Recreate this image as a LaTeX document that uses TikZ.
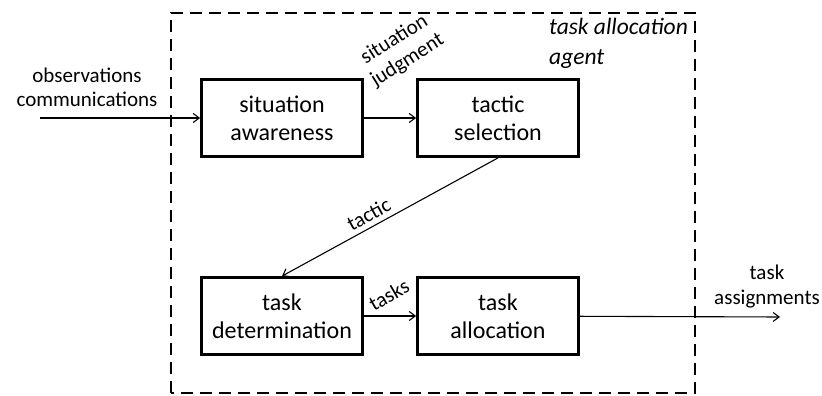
\documentclass[tikz,border=0pt]{standalone}
\usepackage{fontspec}
\setmainfont{Carlito}
\usetikzlibrary{arrows.meta}
\tikzset{
  blk/.style={draw, line width=2.8pt, minimum width=161pt, minimum height=77pt,
    align=center, inner sep=0pt, font=\fontsize{24}{28}\selectfont},
  lbl/.style={align=center, inner sep=0pt, font=\fontsize{21}{24.5}\selectfont},
  agt/.style={anchor=base west, inner sep=0pt, font=\fontsize{23.5}{28}\selectfont\itshape},
  conn/.style={line width=1.1pt, -{Straight Barb[length=6pt,width=9pt]}},
  connr/.style={line width=1.1pt, {Straight Barb[length=6pt,width=9pt]}-},
  frame/.style={line width=2.8pt, dash pattern=on 12pt off 7pt},
}
\begin{document}
\begin{tikzpicture}[x=1pt,y=1pt]
\useasboundingbox (0,0) rectangle (822,396);
\draw[frame] (171,3) rectangle (695,383);

\node[blk] (sa) at (282,278) {situation\\awareness};
\node[blk] (ts) at (498,278) {tactic\\selection};
\node[blk] (td) at (282,80) {task\\determination};
\node[blk] (ta) at (498,80) {task\\allocation};

\node[agt] (ag1) at (549,361) {task allocation};
\node[agt] (ag2) at (549,331) {agent};

\coordinate (src) at (40,278);
\node[lbl] (obs) at (87,308.5) {observations\\communications};
\draw[conn] (src) -- (sa);

\draw[conn] (sa) -- (ts);
\node[lbl, rotate=32] (sj) at (401,346) {situation\\judgment};

\draw[connr] (td.north) -- node[lbl, sloped, above=5pt, pos=0.43] (tc) {tactic} (ts.south);

\draw[conn] (td) -- (ta);
\node[lbl, rotate=30] (tk) at (389,101) {tasks};

\coordinate (dst) at (780,79);
\draw[conn] (ta) -- (dst);
\node[lbl] (tas) at (767,109.5) {task\\assignments};
\end{tikzpicture}
\end{document}
